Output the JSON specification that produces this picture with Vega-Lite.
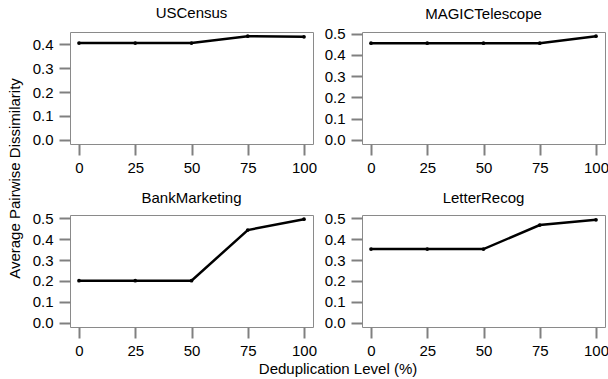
{
  "$schema": "https://vega.github.io/schema/vega-lite/v6.json",
  "autosize": {"type": "pad"},
  "padding": {"left": 6, "top": 5, "right": 0, "bottom": 0},
  "datasets": {
    "dedup": [
      {"dataset": "USCensus", "level": 0, "value": 0.405},
      {"dataset": "USCensus", "level": 25, "value": 0.405},
      {"dataset": "USCensus", "level": 50, "value": 0.405},
      {"dataset": "USCensus", "level": 75, "value": 0.434},
      {"dataset": "USCensus", "level": 100, "value": 0.431},
      {"dataset": "MAGICTelescope", "level": 0, "value": 0.455},
      {"dataset": "MAGICTelescope", "level": 25, "value": 0.455},
      {"dataset": "MAGICTelescope", "level": 50, "value": 0.455},
      {"dataset": "MAGICTelescope", "level": 75, "value": 0.455},
      {"dataset": "MAGICTelescope", "level": 100, "value": 0.488},
      {"dataset": "BankMarketing", "level": 0, "value": 0.201},
      {"dataset": "BankMarketing", "level": 25, "value": 0.201},
      {"dataset": "BankMarketing", "level": 50, "value": 0.201},
      {"dataset": "BankMarketing", "level": 75, "value": 0.443},
      {"dataset": "BankMarketing", "level": 100, "value": 0.495},
      {"dataset": "LetterRecog", "level": 0, "value": 0.352},
      {"dataset": "LetterRecog", "level": 25, "value": 0.352},
      {"dataset": "LetterRecog", "level": 50, "value": 0.352},
      {"dataset": "LetterRecog", "level": 75, "value": 0.467},
      {"dataset": "LetterRecog", "level": 100, "value": 0.492}
    ]
  },
  "config": {
    "font": "Liberation Sans",
    "view": {"stroke": "#8a8a8a", "strokeWidth": 1},
    "axis": {
      "grid": false,
      "domain": false,
      "ticks": true,
      "tickColor": "#808080",
      "tickWidth": 2,
      "tickSize": 11,
      "labelFont": "Liberation Sans",
      "labelFontSize": 15,
      "labelColor": "#000000",
      "titleFont": "Liberation Sans",
      "titleFontSize": 15,
      "titleFontWeight": "normal",
      "titleColor": "#000000"
    },
    "axisX": {"labelPadding": 5},
    "axisY": {"labelPadding": 6},
    "title": {"font": "Liberation Sans", "fontSize": 15, "fontWeight": "normal", "color": "#000000", "baseline": "alphabetic", "offset": 10, "anchor": "middle"}
  },
  "concat": [
    {
      "title": {"text": "USCensus", "offset": 10},
      "width": 243,
      "height": 112,
      "data": {"name": "dedup"},
      "transform": [{"filter": "datum.dataset === 'USCensus'"}],
      "layer": [
        {"mark": {"type": "line", "color": "#000000", "strokeWidth": 2.5}},
        {"mark": {"type": "circle", "color": "#000000", "opacity": 1, "size": 14}}
      ],
      "encoding": {
        "x": {"field": "level", "type": "quantitative", "scale": {"domain": [-4, 104], "nice": false}, "axis": {"values": [0, 25, 50, 75, 100], "format": "d", "title": null}},
        "y": {"field": "value", "type": "quantitative", "scale": {"domain": [-0.0174, 0.4514], "nice": false, "zero": false}, "axis": {"values": [0, 0.1, 0.2, 0.3, 0.4], "format": ".1f", "title": "Average Pairwise Dissimilarity", "titleX": -56, "titleY": 146, "titleAngle": 270, "titleBaseline": "middle", "titleAlign": "center"}}
      }
    },
    {
      "title": {"text": "MAGICTelescope", "offset": 5},
      "width": 243,
      "height": 112,
      "data": {"name": "dedup"},
      "transform": [{"filter": "datum.dataset === 'MAGICTelescope'"}],
      "layer": [
        {"mark": {"type": "line", "color": "#000000", "strokeWidth": 2.5}},
        {"mark": {"type": "circle", "color": "#000000", "opacity": 1, "size": 14}}
      ],
      "encoding": {
        "x": {"field": "level", "type": "quantitative", "scale": {"domain": [-4, 104], "nice": false}, "axis": {"values": [0, 25, 50, 75, 100], "format": "d", "title": null}},
        "y": {"field": "value", "type": "quantitative", "scale": {"domain": [-0.0195, 0.5075], "nice": false, "zero": false}, "axis": {"values": [0, 0.1, 0.2, 0.3, 0.4, 0.5], "format": ".1f", "title": null}}
      }
    },
    {
      "title": {"text": "BankMarketing", "offset": 5},
      "width": 243,
      "height": 112,
      "data": {"name": "dedup"},
      "transform": [{"filter": "datum.dataset === 'BankMarketing'"}],
      "layer": [
        {"mark": {"type": "line", "color": "#000000", "strokeWidth": 2.5}},
        {"mark": {"type": "circle", "color": "#000000", "opacity": 1, "size": 14}}
      ],
      "encoding": {
        "x": {"field": "level", "type": "quantitative", "scale": {"domain": [-4, 104], "nice": false}, "axis": {"values": [0, 25, 50, 75, 100], "format": "d", "title": "Deduplication Level (%)", "titleX": 267.5, "titleY": 41, "titleBaseline": "middle", "titleAlign": "center"}},
        "y": {"field": "value", "type": "quantitative", "scale": {"domain": [-0.0198, 0.5148], "nice": false, "zero": false}, "axis": {"values": [0, 0.1, 0.2, 0.3, 0.4, 0.5], "format": ".1f", "title": null}}
      }
    },
    {
      "title": {"text": "LetterRecog", "offset": 5},
      "width": 243,
      "height": 112,
      "data": {"name": "dedup"},
      "transform": [{"filter": "datum.dataset === 'LetterRecog'"}],
      "layer": [
        {"mark": {"type": "line", "color": "#000000", "strokeWidth": 2.5}},
        {"mark": {"type": "circle", "color": "#000000", "opacity": 1, "size": 14}}
      ],
      "encoding": {
        "x": {"field": "level", "type": "quantitative", "scale": {"domain": [-4, 104], "nice": false}, "axis": {"values": [0, 25, 50, 75, 100], "format": "d", "title": null}},
        "y": {"field": "value", "type": "quantitative", "scale": {"domain": [-0.0198, 0.5148], "nice": false, "zero": false}, "axis": {"values": [0, 0.1, 0.2, 0.3, 0.4, 0.5], "format": ".1f", "title": null}}
      }
    }
  ],
  "columns": 2,
  "spacing": {"row": 71, "column": 49},
  "bounds": "flush",
  "resolve": {"scale": {"x": "independent", "y": "independent"}}
}
